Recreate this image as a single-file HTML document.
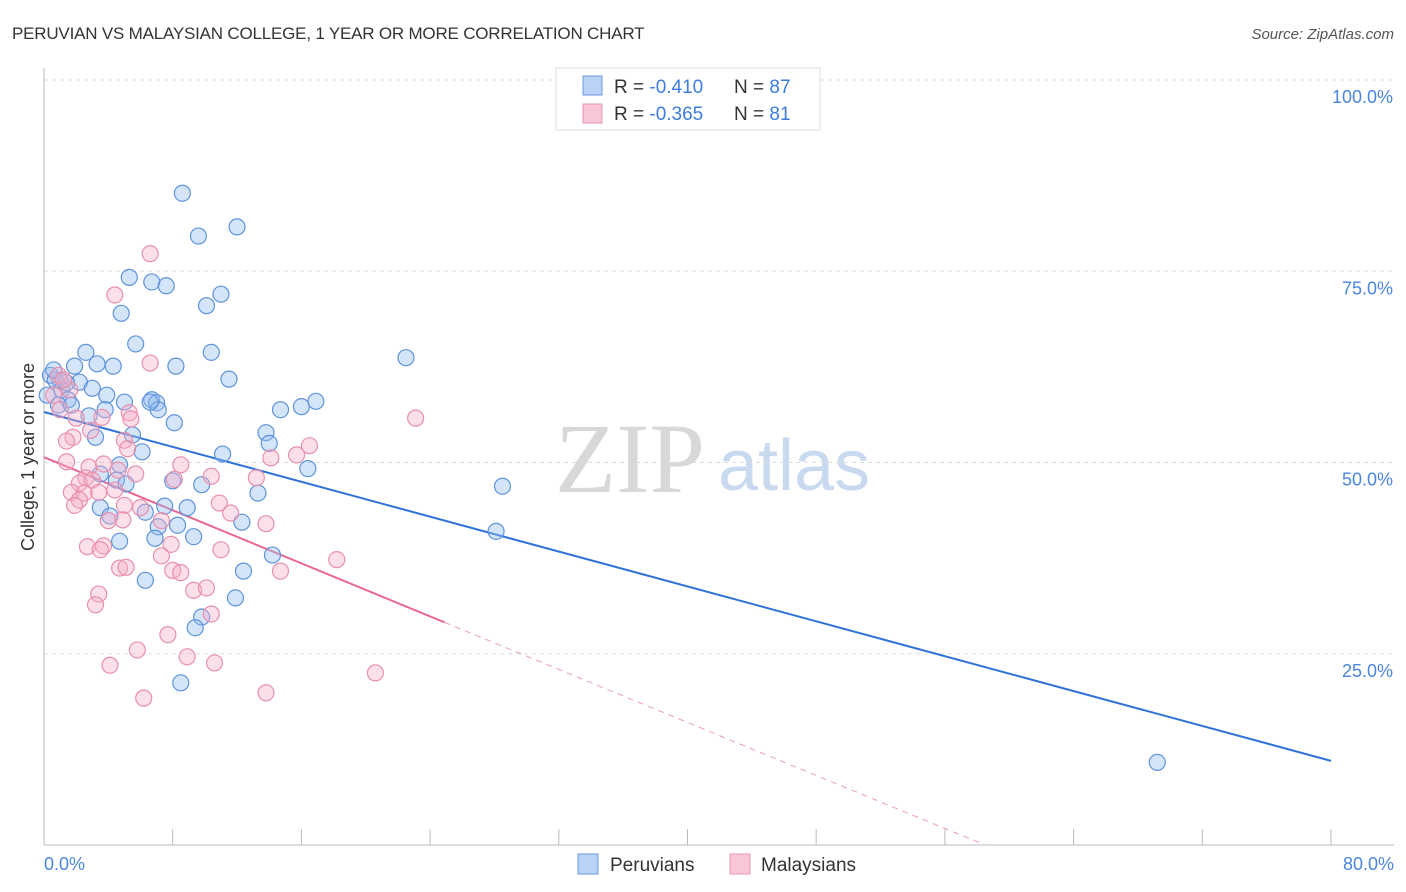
<!DOCTYPE html>
<html><head><meta charset="utf-8"><style>
body{margin:0;background:#fff;font-family:"Liberation Sans",sans-serif}
svg{display:block}
</style></head><body>
<svg id="chart" width="1406" height="892" xmlns="http://www.w3.org/2000/svg">
<text x="12" y="39" font-size="17" fill="#333" letter-spacing="-0.2">PERUVIAN VS MALAYSIAN COLLEGE, 1 YEAR OR MORE CORRELATION CHART</text>
<text x="1394" y="39" font-size="15" fill="#555" font-style="italic" text-anchor="end">Source: ZipAtlas.com</text>
<g>
<text x="555" y="492" font-size="100" font-family="Liberation Serif,serif" fill="#d8d8d8">ZIP</text>
<text x="718" y="490" font-size="72" fill="#c9daf0">atlas</text>
</g>
<g id="grid"></g>
<g id="axes"></g>
<g id="lines"></g>
<g id="pts"></g>
<text transform="translate(34,457) rotate(-90)" font-size="18" fill="#333" text-anchor="middle">College, 1 year or more</text>
<g>
<rect x="556" y="68" width="264" height="62" fill="#fff" stroke="#ddd"/>
<rect x="583" y="76" width="19" height="19" fill="#b9d2f5" stroke="#6b9be0"/>
<rect x="583" y="104" width="19" height="19" fill="#f8c6d6" stroke="#e796b0"/>
<text x="614" y="93" font-size="19" fill="#333">R = <tspan fill="#3b7de0">-0.410</tspan></text>
<text x="734" y="93" font-size="19" fill="#333">N = <tspan fill="#3b7de0">87</tspan></text>
<text x="614" y="120" font-size="19" fill="#333">R = <tspan fill="#3b7de0">-0.365</tspan></text>
<text x="734" y="120" font-size="19" fill="#333">N = <tspan fill="#3b7de0"> 81</tspan></text>
</g>
<g>
<rect x="578" y="854" width="20" height="20" fill="#b9d2f5" stroke="#6b9be0"/>
<text x="610" y="871" font-size="19" fill="#333">Peruvians</text>
<rect x="730" y="854" width="20" height="20" fill="#f8c6d6" stroke="#e796b0"/>
<text x="761" y="871" font-size="19" fill="#333">Malaysians</text>
</g>
</svg>
<script>
const yTicks=[25,50,75,100];
const yTickLabels=["25.0%","50.0%","75.0%","100.0%"];
const xEndLabels=["0.0%","80.0%"];
const blueX=[8.6,9.6,12.0,5.3,6.7,7.6,11.0,10.1,4.8,5.7,2.6,10.4,3.3,4.3,8.2,1.9,22.5,11.5,1.0,2.2,3.0,3.9,5.0,6.7,7.0,7.1,8.1,6.6,16.9,16.0,14.7,2.8,3.8,3.2,5.5,13.8,14.0,6.1,11.1,16.4,28.5,13.3,4.7,3.5,4.5,5.1,9.8,8.0,7.5,8.9,3.5,6.3,4.1,8.3,7.1,9.3,4.7,6.9,12.3,12.4,14.2,6.3,11.9,9.8,9.4,8.5,28.1,69.2,0.4,0.7,1.1,1.5,0.2,0.9,1.7,1.4,0.6];
const blueY=[85.2,79.6,80.8,74.2,73.6,73.1,72.0,70.5,69.5,65.5,64.4,64.4,62.9,62.6,62.6,62.6,63.7,60.9,60.7,60.5,59.7,58.8,57.9,58.2,57.8,56.9,55.2,57.9,58.0,57.3,56.9,56.1,56.9,53.3,53.6,53.9,52.5,51.4,51.1,49.2,46.9,46.0,49.7,48.5,47.7,47.2,47.1,47.6,44.3,44.1,44.1,43.5,43.0,41.8,41.6,40.3,39.7,40.1,42.2,35.8,37.9,34.6,32.3,29.8,28.4,21.2,41.0,10.8,61.4,60.8,59.5,58.2,58.8,57.5,57.5,60.4,62.1];
const pinkX=[6.6,4.4,6.6,23.1,0.9,1.6,1.2,0.6,1.0,2.0,1.8,1.4,2.9,5.3,5.4,5.0,5.2,3.6,1.4,2.8,3.7,4.6,5.7,2.6,2.2,3.0,1.7,2.5,3.4,2.2,1.9,4.4,8.5,8.1,10.4,10.9,11.6,13.8,13.2,15.7,16.5,14.1,5.0,6.0,4.0,4.9,7.3,7.9,7.3,8.0,8.5,11.0,2.7,3.7,3.5,4.7,5.1,9.3,10.1,10.4,3.4,3.2,14.7,18.2,7.7,5.8,8.9,10.6,4.1,6.2,13.8,20.6];
const pinkY=[77.3,71.9,63.0,55.8,61.4,59.5,60.8,58.8,56.9,55.8,53.3,52.8,54.2,56.5,55.7,52.9,51.8,55.9,50.1,49.4,49.8,49.0,48.5,48.0,47.3,47.7,46.1,46.0,46.1,45.1,44.4,46.4,49.7,47.8,48.2,44.7,43.4,42.0,48.0,51.0,52.2,50.6,44.4,44.1,42.4,42.5,42.4,39.3,37.8,35.9,35.6,38.6,39.0,39.1,38.6,36.2,36.3,33.3,33.6,30.2,32.8,31.4,35.8,37.3,27.5,25.5,24.6,23.8,23.5,19.2,19.9,22.5];
const blueTrend=[0,56.6,80,11.0];
const pinkTrend=[0,50.7,24.9,29.1];
const pinkTrendExt=[24.9,29.1,58.5,0];

const NS="http://www.w3.org/2000/svg";
const X0=44,X1=1331,Y0=845,Y100=80;
const sx=v=>X0+(v/80)*(X1-X0);
const sy=v=>Y0-(v/100)*(Y0-Y100);
function mk(tag,attrs,parent){const e=document.createElementNS(NS,tag);for(const k in attrs)e.setAttribute(k,attrs[k]);parent.appendChild(e);return e;}
const grid=document.getElementById('grid'),axes=document.getElementById('axes'),lines=document.getElementById('lines'),pts=document.getElementById('pts');
yTicks.forEach((t,i)=>{
 const l=mk('line',{x1:X0,x2:1394,y1:sy(t),y2:sy(t),stroke:'#ddd','stroke-dasharray':'4,4'},grid);
 
 
 const tx=mk('text',{x:1393,y:sy(t)+23,'font-size':18,fill:'#4a86e0','text-anchor':'end'},axes);
 tx.textContent=yTickLabels[i];
 
 
});
mk('line',{x1:X0,x2:X0,y1:68,y2:Y0,stroke:'#bbb'},axes);
mk('line',{x1:X0,x2:1394,y1:Y0,y2:Y0,stroke:'#bbb'},axes);
for(let i=0;i<=10;i++){const x=sx(i*8);const t=mk('line',{x1:x,x2:x,y1:Y0,y2:Y0-16,stroke:'#bbb'},axes);}
const xl0=mk('text',{x:44,y:870,'font-size':18,fill:'#4a86e0'},axes);xl0.textContent=xEndLabels[0];


const xl1=mk('text',{x:1394,y:870,'font-size':18,fill:'#4a86e0','text-anchor':'end'},axes);xl1.textContent=xEndLabels[1];


blueX.forEach((x,i)=>{const c=mk('circle',{cx:sx(x),cy:sy(blueY[i]),r:8,fill:'rgba(150,190,240,0.4)',stroke:'#5e93dc','stroke-width':1.2},pts);
 
 });
pinkX.forEach((x,i)=>{const c=mk('circle',{cx:sx(x),cy:sy(pinkY[i]),r:8,fill:'rgba(245,175,200,0.4)',stroke:'#e890ad','stroke-width':1.2},pts);
 
 });
const b=mk('line',{x1:sx(blueTrend[0]),y1:sy(blueTrend[1]),x2:sx(blueTrend[2]),y2:sy(blueTrend[3]),stroke:'#2f72d8','stroke-width':2},lines);


const p=mk('line',{x1:sx(pinkTrend[0]),y1:sy(pinkTrend[1]),x2:sx(pinkTrend[2]),y2:sy(pinkTrend[3]),stroke:'#e8668f','stroke-width':2},lines);


const pe=mk('line',{x1:sx(pinkTrendExt[0]),y1:sy(pinkTrendExt[1]),x2:sx(pinkTrendExt[2]),y2:sy(pinkTrendExt[3]),stroke:'#e8a0b6','stroke-width':1,'stroke-dasharray':'6,5'},lines);


</script>
</body></html>
